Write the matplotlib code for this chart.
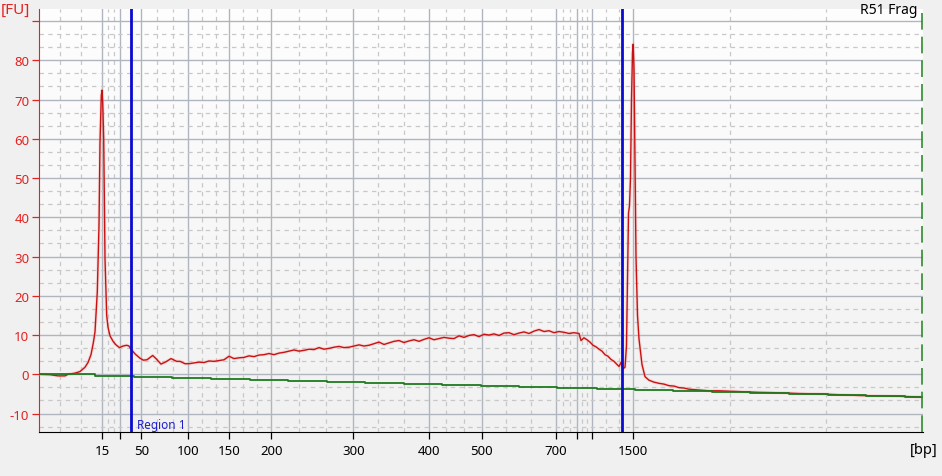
import numpy as np
import matplotlib.pyplot as plt
from matplotlib.colors import LinearSegmentedColormap

plt.rcParams['font.family'] = ['Noto Sans', 'DejaVu Sans']

# ladder sizes and their migration times (s)
ladder_bp = [15, 25, 50, 100, 150, 200, 300, 400, 500, 700, 850, 1000, 1500]
ladder_time = [46.33, 48.13, 50.23, 54.93, 59.03, 63.23, 71.43, 78.97, 84.27, 91.67, 93.77, 95.27, 99.43]
ladder_shown = [15, 50, 100, 150, 200, 300, 400, 500, 700, 1500]

# sample electropherogram, time (s) vs fluorescence (FU)
trace_time = [40.0, 41.1, 41.9, 42.6, 42.9, 43.6, 44.1, 44.6, 44.9, 45.2, 45.43, 45.6, 45.83, 46.0, 46.1,
              46.23, 46.3, 46.37, 46.47, 46.6, 46.77, 46.9, 47.1, 47.43, 47.7, 48.05, 48.4, 48.77, 49.0,
              49.2, 49.6, 50.1, 50.43, 50.8, 51.37, 51.7, 52.2, 52.7, 53.2, 53.77, 54.1, 54.6,
              55.0, 55.5, 56.0, 56.5, 57.0, 57.5, 58.0, 58.5, 59.0, 59.5, 60.0, 60.5, 61.0, 61.5,
              62.0, 62.5, 63.0, 63.5, 64.0, 64.5, 65.0, 65.5, 66.0, 66.5, 67.0, 67.5, 68.0, 68.5,
              69.0, 69.5, 70.0, 70.5, 71.0, 71.5, 72.0, 72.5, 73.0, 73.5, 74.0, 74.5, 75.0, 75.5,
              76.0, 76.5, 77.0, 77.5, 78.0, 78.5, 79.0, 79.5, 80.0, 80.5, 81.0, 81.5, 82.0, 82.5,
              83.0, 83.5, 84.0, 84.5, 85.0, 85.5, 86.0, 86.5, 87.0, 87.5, 88.0, 88.5, 89.0, 89.5,
              90.0, 90.5, 91.0, 91.5, 92.0, 92.5, 93.0, 93.5, 94.0,
              94.2, 94.5, 94.8, 95.1, 95.4, 95.7, 96.0, 96.3, 96.6, 96.9, 97.2, 97.5, 97.8, 98.0,
              98.2, 98.4, 98.6, 98.75, 98.85, 98.95, 99.05, 99.15, 99.25, 99.35, 99.42, 99.5, 99.6,
              99.7, 99.85, 100.0, 100.3, 100.6, 101.0, 101.5, 102.0, 102.5, 103.0, 103.5, 104.0,
              104.5, 105.0, 106.0, 107.0, 108.0, 110.0, 112.0, 114.0, 116.0, 118.0, 120.0, 122.0,
              124.0, 126.0, 128.3]
trace_fu = [0.0, -0.1, -0.4, -0.4, 0.0, 0.3, 0.7, 1.8, 3.0, 5.0, 8.0, 10.8, 21.0, 38.0, 59.0,
            71.0, 72.4, 69.4, 60.0, 29.4, 15.0, 12.0, 9.8, 8.3, 7.5, 6.8, 7.2, 7.4, 7.2,
            6.4, 5.2, 4.1, 3.6, 3.7, 4.8, 4.0, 2.6, 3.2, 4.0, 3.3, 3.3, 2.7,
            2.7, 2.9, 3.1, 3.0, 3.4, 3.3, 3.5, 3.7, 4.6, 4.0, 4.2, 4.3, 4.7, 4.5,
            4.9, 5.0, 5.3, 5.0, 5.4, 5.6, 5.9, 6.2, 5.9, 6.1, 6.4, 6.3, 6.8, 6.4,
            6.6, 6.9, 7.1, 6.8, 6.9, 7.2, 7.5, 7.2, 7.4, 7.8, 8.2, 7.6, 8.0, 8.4,
            8.6, 8.1, 8.5, 8.8, 8.4, 8.9, 9.3, 8.8, 9.1, 9.4, 9.2, 9.1, 9.8, 9.4,
            9.9, 10.1, 9.6, 10.2, 10.0, 10.3, 9.9, 10.5, 10.6, 10.1, 10.5, 10.8, 10.4, 11.0,
            11.4, 10.9, 11.1, 10.6, 10.9, 10.7, 10.4, 10.6, 10.4,
            8.6, 9.3, 8.8, 8.2, 7.4, 7.0, 6.4, 5.9, 5.0, 4.6, 3.8, 3.3, 2.5, 2.0,
            3.0, 1.4, 1.8, 7.3, 25.0, 41.0, 43.0, 50.0, 70.0, 82.0, 84.1, 78.0, 55.0,
            30.0, 15.0, 9.0, 2.5, -0.6, -1.5, -2.0, -2.3, -2.5, -2.9, -3.0, -3.4,
            -3.5, -3.8, -4.0, -4.2, -4.2, -4.4, -4.6, -4.7, -4.9, -5.0, -5.2, -5.4,
            -5.5, -5.6, -5.8]

# baseline (stepped)
base_time = [40.0, 45.6, 49.5, 53.3, 57.2, 61.1, 64.9, 68.8, 72.6, 76.5, 80.3, 84.2, 88.0, 91.8,
             95.8, 99.6, 103.4, 107.3, 111.1, 115.0, 118.9, 122.7, 126.6, 128.3]
base_fu = [0.0, -0.4, -0.7, -1.0, -1.2, -1.5, -1.7, -2.0, -2.3, -2.5, -2.8, -3.0, -3.3, -3.5,
           -3.8, -4.0, -4.3, -4.5, -4.8, -5.0, -5.3, -5.5, -5.7, -5.8]

region_edges = [49.17, 98.25]
x_end = 128.33

red = '#c81212'
axred = '#e42222'

fig = plt.figure(figsize=(9.42, 4.77), dpi=100, facecolor='#f0f0f0')
ax = fig.add_axes([39/942, 1 - 433/477, 884/942, 423/477])

bg = LinearSegmentedColormap.from_list('bg', ['#f1f1f1', '#fefefe'])
ax.imshow(np.linspace(0, 1, 256).reshape(-1, 1), extent=(0, 1, 0, 1), transform=ax.transAxes,
          cmap=bg, origin='lower', aspect='auto', zorder=0)

xmin, xmax = 40.0, 128.4
ymin, ymax = -14.7, 93.07

# vertical grid: solid at ladder, dashed at thirds in between
edges = [xmin] + ladder_time + [x_end]
for i in range(len(edges) - 1):
    a, b = edges[i], edges[i + 1]
    if i == 2:
        continue
    for f in (1/3, 2/3):
        ax.axvline(a + (b - a) * f, color='#c8c8c8', lw=0.9, ls=(0, (3.5, 3.5)), zorder=1)
for t in ladder_time:
    ax.axvline(t, color='#b0b6c0', lw=1.0, zorder=1)

for v in range(-10, 100, 10):
    ax.axhline(v, color='#b0b6c0', lw=1.0, zorder=1)
for v in np.arange(-40, 280, 10) / 3:
    if round(v * 3) % 30 != 0:
        ax.axhline(v, color='#c8c8c8', lw=0.9, ls=(0, (3.5, 3.5)), zorder=1)

ax.plot(trace_time, trace_fu, color='#f4a0a0', lw=2.4, alpha=0.3, zorder=3, solid_joinstyle='round')
ax.plot(trace_time, trace_fu, color=red, lw=1.0, zorder=4)
ax.plot(base_time, base_fu, color='#1e7a1e', lw=1.3, drawstyle='steps-post', zorder=5)

for t in region_edges:
    ax.axvline(t, color='#0a0ad0', lw=2.0, zorder=6)
ax.text(49.8, -12.9, 'Region 1', color='#2020c8', fontsize=8.5, ha='left', va='center', zorder=7)
ax.axvline(x_end, color='#2e8b2e', lw=1.2, ls=(0, (10, 4.2)), zorder=6)

ax.set_xlim(xmin, xmax)
ax.set_ylim(ymin, ymax)

ax.set_xticks(ladder_time)
ax.set_xticklabels([str(b) if b in ladder_shown else '' for b in ladder_bp])
ax.set_yticks(range(-10, 100, 10))
ax.set_yticklabels([str(v) if v <= 80 else '' for v in range(-10, 100, 10)])
ax.tick_params(axis='x', direction='out', length=5, width=0.9, colors='black', labelsize=9.5)
ax.tick_params(axis='y', direction='out', length=5, width=0.9, colors=axred, labelsize=9.5, pad=2)

for s in ('top', 'right'):
    ax.spines[s].set_visible(False)
ax.spines['left'].set_color(axred)
ax.spines['bottom'].set_color('black')

fig.text(15/942, 1 - 10/477, '[FU]', color=axred, fontsize=11, ha='center', va='center')
fig.text(918/942, 1 - 10.5/477, 'R51 Frag', color='black', fontsize=10, ha='right', va='center')
fig.text(924/942, 1 - 451/477, '[bp]', color='black', fontsize=10.5, ha='center', va='center')

fig.savefig('out.png', dpi=100, facecolor=fig.get_facecolor())
